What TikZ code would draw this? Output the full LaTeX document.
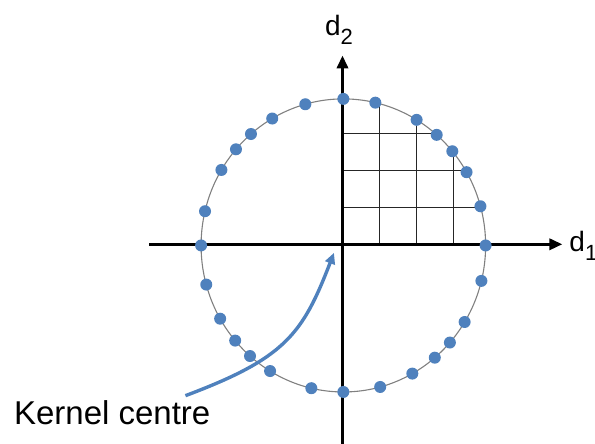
\documentclass[tikz,border=0pt]{standalone}
\usepackage{fontspec}
\setmainfont{Liberation Sans}
\usetikzlibrary{arrows.meta}
\definecolor{dotblue}{RGB}{79,129,189}
\newcommand{\subidx}[1]{\raisebox{-0.33em}{\fontsize{22}{22}\selectfont #1}}

\begin{document}
\begin{tikzpicture}[
    axis/.style={line width=3.3pt, -{Triangle[length=13pt, width=11pt]}},
    gridline/.style={line width=0.9pt, black!85},
    ring/.style={line width=1.1pt, gray},
    sample/.style={fill=dotblue},
    arr/.style={line width=3.4pt, dotblue, -{Triangle[length=11pt, width=10pt]}},
    every node/.style={inner sep=0pt},
]
\useasboundingbox (-342.5pt,-199.7pt) rectangle (252.5pt,244.3pt);

% Grid in the first quadrant, clipped to the ring
\begin{scope}
  \clip (0.03,-0.04) ellipse (5cm and 5.15cm);
  \foreach \g in {1.3,2.6,3.9} {
    \draw[gridline] (\g,0) -- (\g,5.5);
    \draw[gridline] (0,\g) -- (5.5,\g);
  }
\end{scope}

% Ring
\draw[ring] (0.03,-0.04) ellipse (5cm and 5.15cm);

% Axes
\coordinate (x0) at (-6.79,0);
\coordinate (x1) at (7.73,0);
\coordinate (y0) at (0,-7.3);
\coordinate (y1) at (0,6.64);
\draw[axis] (x0) -- (x1);
\draw[axis] (y0) -- (y1);

\node[anchor=base west, font=\fontsize{28}{30}\selectfont] (d1) at (7.97,-0.24) {d\subidx{1}};
\node[anchor=base west, font=\fontsize{28}{30}\selectfont] (d2) at (-0.62,7.35) {d\subidx{2}};

% Samples on the ring
\foreach \a in {0,15.5,30,40,49,59,77,90,105.5,120,130.5,139,149,166.5,
                180,195.5,210,220.5,229,239,257,270,285,299,310,318.5,328.5,346}
  \fill[sample] ({0.03+5*cos(\a)},{-0.04+5.15*sin(\a)}) circle (6pt);

% Kernel centre label
\node[anchor=base west, font=\fontsize{33}{40}\selectfont] (kernel) at (-11.55,-6.34) {Kernel centre};
\coordinate (tail) at (-5.52,-5.32);
\coordinate (centre) at (-0.3,-0.3);
\draw[arr] (tail) .. controls (-2.0,-4.0) and (-1.4,-3.15) .. (centre);

\end{tikzpicture}
\end{document}
